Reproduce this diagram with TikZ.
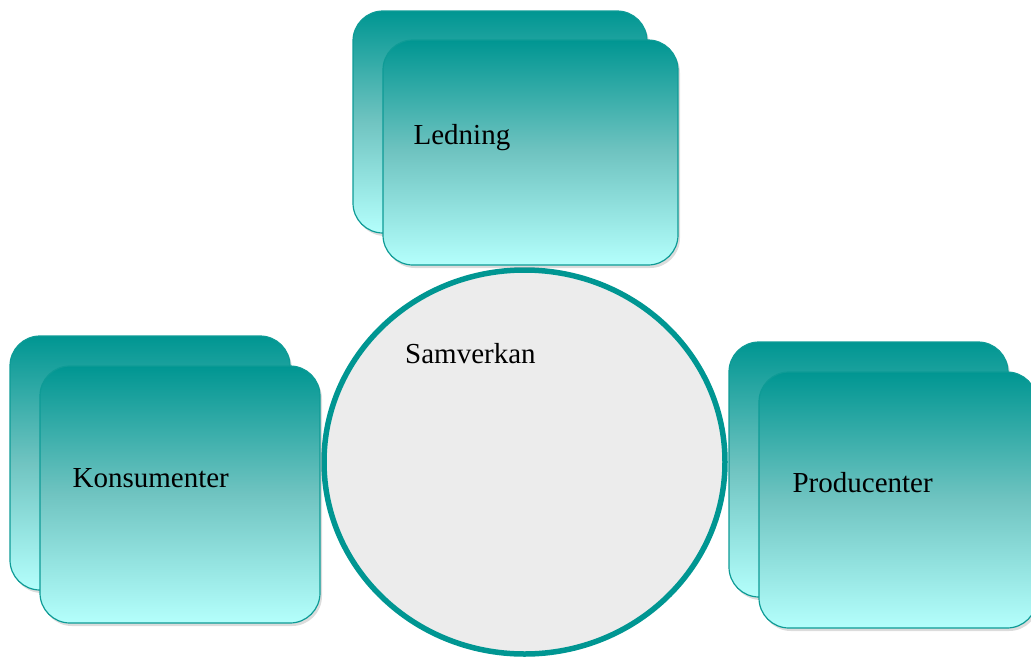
\documentclass[tikz,border=0pt]{standalone}
\usepackage{fontspec}
\setmainfont{Liberation Serif}
\usetikzlibrary{positioning, shadows, shapes.geometric}
\definecolor{tealdark}{RGB}{0,150,146}
\definecolor{tealmid}{RGB}{112,196,193}
\definecolor{cyanlight}{RGB}{180,255,252}
\definecolor{tealedge}{RGB}{14,155,150}
\definecolor{hubgrey}{RGB}{236,236,236}

\begin{document}
\begin{tikzpicture}[x=1pt, y=-1pt,
		card/.style={draw=tealedge, line width=1.2pt, rounded corners=30pt, inner sep=0pt,
			top color=tealdark, bottom color=cyanlight, middle color=tealmid,
			drop shadow={shadow xshift=2pt, shadow yshift=-3pt, opacity=.25, fill=black!55}},
		hub/.style={ellipse, draw=tealdark, line width=5.5pt, fill=hubgrey, inner sep=0pt,
			minimum width=401pt, minimum height=384pt},
		lbl/.style={font=\fontsize{29}{34}\selectfont, inner sep=0pt, anchor=base west}
		]
		\useasboundingbox (0,0) rectangle (1031,657);
		
		\node[hub] (hub) at (524.5,462) {};
		
		\node[card, minimum width=294pt, minimum height=222pt] (ledback) at (500,122) {};
		\node[card, minimum width=295pt, minimum height=225pt] (ledfront) at (530.5,152.5) {};
		
		\node[card, minimum width=280pt, minimum height=254pt] (konback) at (150,463) {};
		\node[card, minimum width=280pt, minimum height=257pt] (konfront) at (180,494.5) {};
		
		\node[card, minimum width=279pt, minimum height=255pt] (proback) at (868.5,469.5) {};
		\node[card, minimum width=278pt, minimum height=256pt] (profront) at (898,500) {};
		
		\node[lbl] (ledtxt) at ([shift={(31pt,8pt)}]ledfront.west) {Ledning};
		\node[lbl] (kontxt) at ([shift={(33pt,7.5pt)}]konfront.west) {Konsumenter};
		\node[lbl] (protxt) at ([shift={(34pt,8pt)}]profront.west) {Producenter};
		\node[lbl] (hubtxt) at ([shift={(-119.5pt,99pt)}]hub.center) {Samverkan};
	\end{tikzpicture}
\end{document}
